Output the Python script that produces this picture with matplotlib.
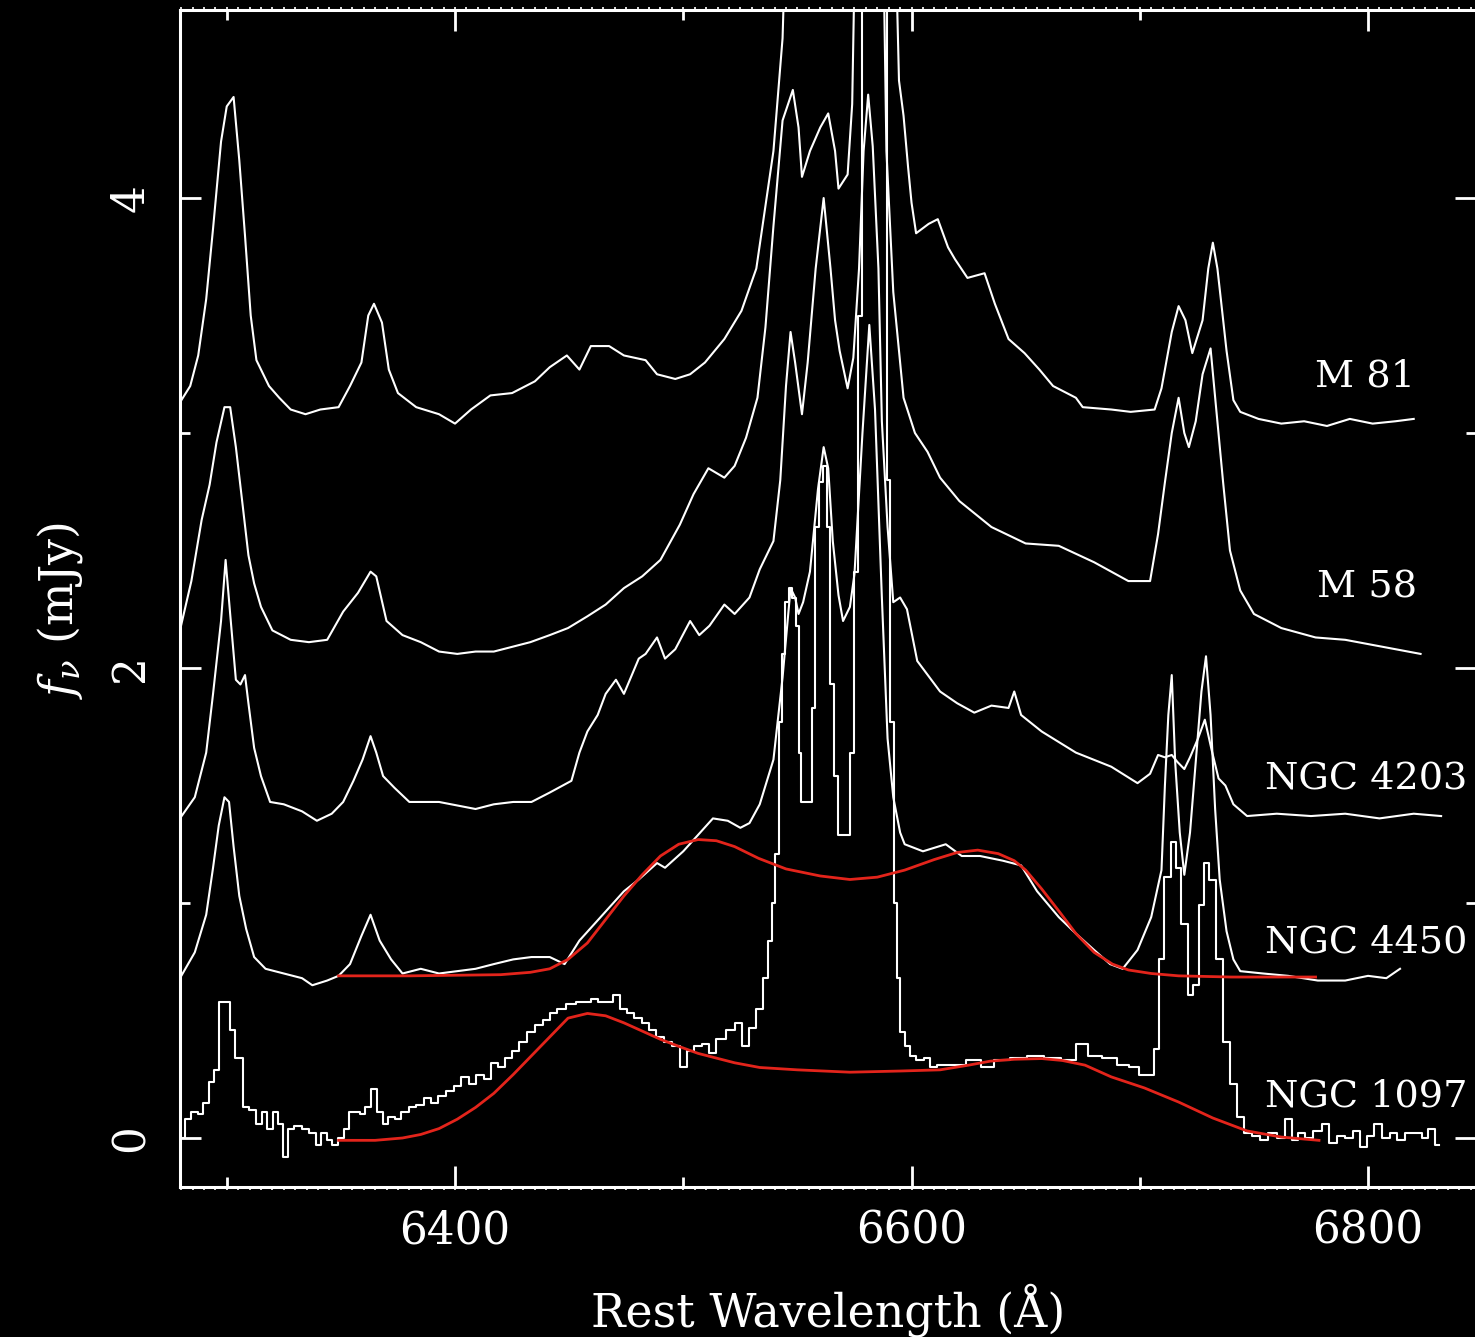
import numpy as np
import matplotlib
matplotlib.use("Agg")
import matplotlib.pyplot as plt
from matplotlib.ticker import MultipleLocator, NullLocator

plt.rcParams['font.family'] = ['DejaVu Serif']
plt.rcParams['mathtext.fontset'] = 'dejavuserif'

# spectra: (rest wavelength [A], f_nu [mJy] incl. offset)
# values > 4.8 run off the top of the frame
m81 = [(6279.5, 3.13), (6284, 3.20), (6287.5, 3.33), (6291, 3.57), (6294, 3.87), (6297.5, 4.24),
       (6300, 4.39), (6303, 4.43), (6305.5, 4.16), (6308, 3.84), (6310.5, 3.50), (6313, 3.31),
       (6318.5, 3.20), (6323, 3.15), (6328, 3.10), (6334.5, 3.08), (6341, 3.10), (6349, 3.11),
       (6354, 3.20), (6359, 3.30), (6362, 3.50), (6364.5, 3.55), (6368, 3.47), (6371, 3.27),
       (6375, 3.17), (6383, 3.11), (6393, 3.08), (6400, 3.04), (6407, 3.10), (6415.5, 3.16),
       (6425, 3.17), (6435, 3.22), (6441.5, 3.28), (6449, 3.33), (6454.5, 3.27), (6459.5, 3.37),
       (6467.5, 3.37), (6474, 3.33), (6483.5, 3.31), (6488.5, 3.25), (6496.5, 3.23), (6503, 3.25),
       (6509.5, 3.30), (6518, 3.40), (6525.5, 3.52), (6532, 3.70), (6539.5, 4.20), (6543.5, 4.68),
       (6546, 5.5), (6592, 5.5), (6594.5, 4.50), (6596.5, 4.35), (6598.5, 4.13), (6600, 3.98),
       (6602, 3.85), (6607.5, 3.89), (6611.5, 3.91), (6616, 3.79), (6619, 3.74), (6624.5, 3.66),
       (6632, 3.68), (6636.5, 3.55), (6642.5, 3.40), (6649.5, 3.34), (6656, 3.27), (6662, 3.20),
       (6672, 3.15), (6675, 3.11), (6687.5, 3.10), (6696, 3.09), (6706.5, 3.10), (6709.5, 3.19),
       (6714, 3.43), (6717, 3.54), (6720, 3.48), (6723, 3.34), (6727.5, 3.48), (6730, 3.70),
       (6732, 3.81), (6734, 3.70), (6735.5, 3.57), (6738, 3.35), (6741, 3.14), (6744, 3.09),
       (6752, 3.06), (6762, 3.04), (6772, 3.05), (6782, 3.03), (6792, 3.06), (6802, 3.04),
       (6812, 3.05), (6820, 3.06)]

m58 = [(6279.5, 2.16), (6284.5, 2.37), (6289, 2.63), (6292.5, 2.78), (6295.5, 2.96), (6299, 3.11),
       (6301.5, 3.11), (6304, 2.94), (6307, 2.69), (6309.5, 2.48), (6312, 2.36), (6315, 2.26),
       (6320, 2.16), (6328, 2.12), (6336, 2.11), (6344, 2.12), (6351, 2.24), (6357.5, 2.32),
       (6363, 2.41), (6365.5, 2.39), (6370, 2.20), (6377, 2.14), (6385, 2.11), (6393, 2.07),
       (6401, 2.06), (6409, 2.07), (6417, 2.07), (6425, 2.09), (6433, 2.11), (6441.5, 2.14),
       (6449.5, 2.17), (6458, 2.22), (6466, 2.27), (6474, 2.34), (6482, 2.39), (6490, 2.46),
       (6498.5, 2.61), (6504.5, 2.74), (6511, 2.85), (6518, 2.81), (6522.5, 2.86), (6527.5, 2.98),
       (6532.5, 3.15), (6536, 3.45), (6539.5, 3.88), (6543.5, 4.33), (6548, 4.46), (6550.5, 4.30),
       (6552, 4.09), (6555.5, 4.20), (6560, 4.30), (6563.5, 4.36), (6566.5, 4.20), (6568, 4.04),
       (6572, 4.10), (6574, 4.40), (6576, 5.5), (6587, 5.5), (6589, 4.20), (6592, 3.60),
       (6596.5, 3.15), (6601.5, 3.00), (6607, 2.92), (6612.5, 2.81), (6621, 2.71), (6635, 2.60),
       (6650, 2.53), (6664.5, 2.52), (6680, 2.45), (6695, 2.37), (6704.5, 2.37), (6708, 2.57),
       (6711, 2.79), (6714, 3.00), (6717, 3.15), (6719.5, 3.00), (6721.5, 2.94), (6724.5, 3.05),
       (6727.5, 3.25), (6731, 3.36), (6733.5, 3.10), (6736.5, 2.79), (6739.5, 2.50), (6744, 2.33),
       (6750, 2.23), (6762, 2.17), (6777, 2.13), (6790, 2.12), (6801, 2.10), (6812, 2.08),
       (6823, 2.06)]

ngc4203 = [(6279.5, 1.36), (6286, 1.45), (6291, 1.64), (6294, 1.89), (6297.5, 2.20), (6299.5, 2.46),
           (6301.5, 2.23), (6304, 1.95), (6306, 1.93), (6308, 1.97), (6309.5, 1.85), (6312, 1.66),
           (6315, 1.54), (6319, 1.43), (6325, 1.42), (6333, 1.39), (6339.5, 1.35), (6346, 1.38),
           (6351, 1.43), (6355.5, 1.52), (6359.5, 1.61), (6363, 1.71), (6365.5, 1.64), (6368.5, 1.54),
           (6373.5, 1.49), (6380, 1.43), (6393, 1.43), (6409, 1.40), (6417, 1.42), (6425.5, 1.43),
           (6433.5, 1.43), (6441.5, 1.47), (6451, 1.52), (6454.5, 1.64), (6458, 1.73), (6462.5, 1.80),
           (6466, 1.89), (6470.5, 1.95), (6474, 1.89), (6480.5, 2.04), (6483.5, 2.06), (6488.5, 2.13),
           (6492, 2.04), (6496.5, 2.08), (6503, 2.20), (6507, 2.14), (6511.5, 2.18), (6518, 2.27),
           (6522.5, 2.23), (6529, 2.30), (6533.5, 2.42), (6539.5, 2.54), (6542.5, 2.80), (6545, 3.20),
           (6547, 3.43), (6549, 3.30), (6552, 3.08), (6554.5, 3.30), (6558, 3.70), (6561.5, 4.00),
           (6564.5, 3.70), (6566.5, 3.48), (6568.5, 3.35), (6572, 3.19), (6574.5, 3.32), (6577, 3.70),
           (6579, 4.20), (6581, 4.44), (6583, 4.22), (6585.5, 3.70), (6587, 3.05), (6589.5, 2.60),
           (6592, 2.28), (6595, 2.30), (6598, 2.25), (6602.5, 2.03), (6612.5, 1.90), (6620, 1.85),
           (6627.5, 1.81), (6635, 1.84), (6642.5, 1.83), (6645, 1.90), (6648, 1.80), (6657, 1.73),
           (6672, 1.64), (6687.5, 1.58), (6699, 1.51), (6704.5, 1.55), (6708, 1.63), (6711, 1.62),
           (6714, 1.63), (6716.5, 1.60), (6719.5, 1.57), (6722, 1.62), (6725.5, 1.70), (6728.5, 1.78),
           (6731.5, 1.65), (6734.5, 1.53), (6737.5, 1.50), (6741, 1.42), (6747, 1.37), (6760, 1.38),
           (6775, 1.37), (6790, 1.38), (6805, 1.36), (6820, 1.38), (6832, 1.37)]

ngc4450 = [(6279.5, 0.68), (6286, 0.79), (6291, 0.95), (6294, 1.15), (6296.5, 1.33), (6299, 1.45),
           (6301, 1.43), (6303, 1.24), (6305.5, 1.03), (6308.5, 0.89), (6312, 0.77), (6317, 0.72),
           (6325, 0.70), (6333, 0.68), (6337.5, 0.65), (6344, 0.67), (6349, 0.69), (6354, 0.74),
           (6359, 0.86), (6363, 0.95), (6367, 0.84), (6372, 0.76), (6377, 0.70), (6385, 0.72),
           (6393, 0.70), (6401, 0.71), (6409, 0.72), (6417, 0.74), (6425.5, 0.76), (6433.5, 0.77),
           (6441.5, 0.77), (6448, 0.74), (6454.5, 0.84), (6461, 0.91), (6467.5, 0.98), (6474, 1.05),
           (6480.5, 1.10), (6488.5, 1.17), (6492, 1.15), (6500, 1.22), (6506.5, 1.29), (6513, 1.36),
           (6519.5, 1.35), (6525, 1.32), (6529, 1.34), (6533.5, 1.42), (6539.5, 1.61), (6543.5, 1.96),
           (6547, 2.34), (6549, 2.30), (6550.5, 2.23), (6552.5, 2.28), (6555.5, 2.41), (6559, 2.76),
           (6561.5, 2.94), (6563.5, 2.85), (6565.5, 2.54), (6568, 2.31), (6570, 2.20), (6573, 2.26),
           (6575, 2.40), (6578.5, 3.00), (6581.5, 3.46), (6584, 3.10), (6587, 2.30), (6589.5, 1.70),
           (6592, 1.45), (6595, 1.30), (6597, 1.25), (6605, 1.22), (6615, 1.25), (6622, 1.20),
           (6630, 1.20), (6640, 1.18), (6648, 1.16), (6655, 1.05), (6664.5, 0.94), (6672, 0.87),
           (6680, 0.80), (6687, 0.74), (6692.5, 0.72), (6699, 0.80), (6705, 0.94), (6709.5, 1.14),
           (6711, 1.50), (6712.5, 1.80), (6714, 1.97), (6715.5, 1.60), (6717.5, 1.30), (6719.5, 1.12),
           (6722, 1.30), (6724.5, 1.60), (6727, 1.90), (6729, 2.05), (6731, 1.80), (6733, 1.40),
           (6735, 1.10), (6738, 0.88), (6741, 0.76), (6744, 0.71), (6754, 0.70), (6765, 0.69),
           (6778, 0.67), (6790, 0.67), (6800, 0.69), (6808, 0.68), (6814, 0.72)]

ngc1097 = [(6281, 0.00), (6282.5, 0.08), (6286, 0.11), (6288.5, 0.10), (6291, 0.15), (6293.5, 0.24),
           (6295.5, 0.29), (6298, 0.58), (6300.5, 0.58), (6302, 0.46), (6305.5, 0.34), (6308.5, 0.13),
           (6311, 0.12), (6314.5, 0.06), (6316.5, 0.11), (6319, 0.04), (6321.5, 0.11), (6323.5, 0.06),
           (6325.5, -0.08), (6328, 0.04), (6331, 0.05), (6334.5, 0.04), (6337.5, 0.02), (6340.5, -0.03),
           (6342.5, 0.02), (6345, -0.01), (6347.5, -0.03), (6350, 0.00), (6352.5, 0.04), (6355, 0.11),
           (6357, 0.11), (6359.5, 0.10), (6362, 0.13), (6364.5, 0.21), (6367, 0.11), (6369.5, 0.06),
           (6372, 0.09), (6375, 0.08), (6378, 0.11), (6381.5, 0.13), (6384.5, 0.14), (6388, 0.17),
           (6391, 0.15), (6394.5, 0.18), (6398, 0.20), (6401, 0.22), (6404.5, 0.26), (6407.5, 0.23),
           (6411, 0.27), (6414, 0.25), (6417.5, 0.32), (6420.5, 0.30), (6423.5, 0.34), (6426.5, 0.37),
           (6430, 0.41), (6433.5, 0.45), (6437, 0.48), (6440, 0.50), (6443, 0.53), (6446.5, 0.55),
           (6451, 0.57), (6455, 0.58), (6458, 0.58), (6461, 0.59), (6464.5, 0.58), (6467.5, 0.58),
           (6470.5, 0.61), (6474, 0.55), (6477, 0.53), (6480, 0.51), (6483.5, 0.49), (6486.5, 0.46),
           (6490, 0.43), (6493.5, 0.41), (6497, 0.39), (6500, 0.30), (6503, 0.37), (6506.5, 0.39),
           (6509.5, 0.40), (6513, 0.36), (6516, 0.42), (6521, 0.46), (6524, 0.49), (6527.5, 0.39),
           (6530.5, 0.47), (6533.5, 0.55), (6536, 0.68), (6538, 0.84), (6539.5, 1.00), (6541, 1.21),
           (6542.5, 1.77), (6544, 2.06), (6545.5, 2.28), (6547, 2.34), (6548.5, 2.30), (6550, 2.18),
           (6551, 1.64), (6552.5, 1.43), (6554, 1.43), (6555.5, 1.43), (6557, 1.83), (6558.5, 2.60),
           (6560.5, 2.79), (6562, 2.86), (6563.5, 2.60), (6565, 1.93), (6567, 1.54), (6568.5, 1.29),
           (6570.5, 1.29), (6572.5, 1.29), (6574, 1.64), (6576, 2.41), (6577.5, 3.50), (6579.5, 5.5),
           (6588.5, 5.5), (6590, 2.80), (6591.5, 1.77), (6593, 1.00), (6594, 0.68), (6596, 0.45),
           (6598, 0.39), (6600.5, 0.35), (6603.5, 0.33), (6607, 0.34), (6609.5, 0.30), (6612.5, 0.31),
           (6620, 0.31), (6627.5, 0.33), (6633.5, 0.30), (6639, 0.33), (6647, 0.34), (6654.5, 0.35),
           (6662, 0.34), (6669, 0.33), (6675, 0.40), (6680, 0.35), (6687, 0.34), (6693, 0.31),
           (6697.5, 0.30), (6702, 0.27), (6705, 0.27), (6707.5, 0.38), (6709.5, 0.76), (6712, 1.11),
           (6715, 1.26), (6717, 1.15), (6719.5, 0.91), (6722.5, 0.61), (6724.5, 0.65), (6727, 0.99),
           (6729, 1.17), (6732, 1.10), (6735, 0.76), (6738, 0.41), (6741, 0.23), (6744, 0.09),
           (6747, 0.02), (6751, 0.01), (6754.5, -0.01), (6758, 0.02), (6762, 0.00), (6765, 0.08),
           (6768, -0.01), (6771, 0.02), (6774, 0.00), (6778, 0.03), (6781.5, 0.06), (6784.5, -0.02),
           (6788, 0.01), (6792, 0.00), (6795, 0.03), (6798, -0.04), (6801, 0.01), (6804, 0.06),
           (6808, 0.00), (6811, 0.02), (6814.5, -0.01), (6818, 0.02), (6822, 0.02), (6825, 0.00),
           (6827.5, 0.04), (6831, -0.03)]

# double-peaked disk fits (red)
fit4450 = [(6349, 0.69), (6380, 0.69), (6420, 0.695), (6433, 0.705), (6441.5, 0.72), (6449.5, 0.76),
           (6458, 0.83), (6466, 0.93), (6474, 1.03), (6482, 1.12), (6490, 1.20), (6498, 1.25),
           (6506.5, 1.27), (6514.5, 1.265), (6522.5, 1.24), (6533, 1.19), (6545, 1.145), (6560, 1.115),
           (6573, 1.10), (6585, 1.11), (6597, 1.14), (6610, 1.185), (6620, 1.215), (6629, 1.225),
           (6638, 1.21), (6645, 1.18), (6650, 1.14), (6657, 1.06), (6665, 0.96), (6672, 0.87),
           (6680, 0.79), (6688, 0.74), (6695, 0.715), (6705, 0.70), (6717, 0.69), (6740, 0.685),
           (6777, 0.685)]

fit1097 = [(6349, -0.01), (6365, -0.01), (6377, 0.0), (6385, 0.015), (6393, 0.04), (6401, 0.08),
           (6409, 0.13), (6417, 0.19), (6425.5, 0.27), (6433.5, 0.35), (6441.5, 0.43), (6449.5, 0.51),
           (6458, 0.53), (6466, 0.52), (6474, 0.49), (6482, 0.455), (6490, 0.42), (6498, 0.39),
           (6506.5, 0.36), (6514.5, 0.34), (6522.5, 0.32), (6533.5, 0.30), (6550, 0.29), (6573, 0.28),
           (6595, 0.285), (6612.5, 0.29), (6625, 0.31), (6634.5, 0.327), (6645, 0.335), (6657, 0.338),
           (6666, 0.33), (6676, 0.31), (6687.5, 0.26), (6702, 0.213), (6717, 0.153), (6732, 0.085),
           (6747, 0.03), (6762, 0.004), (6778.5, -0.01)]

names = ["M 81", "M 58", "NGC 4203", "NGC 4450", "NGC 1097"]
name_x = [6820.6, 6821.5, 6843.5, 6843.5, 6843.5]
name_y = [3.196, 2.298, 1.489, 0.79, 0.136]

fig = plt.figure(figsize=(14.75, 13.37), dpi=100, facecolor='black')
ax = fig.add_axes([0.1220, 0.1122, 0.8787, 0.8803])
ax.set_facecolor('black')

for spec in (m81, m58, ngc4203, ngc4450):
    w, f = np.array(spec).T
    ax.plot(w, f, color='white', lw=1.5, zorder=2)
w, f = np.array(ngc1097).T
ax.plot(w, f, color='white', lw=1.5, drawstyle='steps-mid', zorder=2)

for fit in (fit4450, fit1097):
    w, f = np.array(fit).T
    ax.plot(w, f, color='#e3241b', lw=2.0, zorder=3)

for name, x, y in zip(names, name_x, name_y):
    ax.text(x, y, name, color='white', fontsize=27.5, ha='right', va='baseline')

ax.set_xlim(6279.5, 6847.3)
ax.set_ylim(-0.2085, 4.80)

ax.xaxis.set_major_locator(MultipleLocator(200))
ax.xaxis.set_minor_locator(MultipleLocator(100))
ax.yaxis.set_major_locator(MultipleLocator(2))
ax.yaxis.set_minor_locator(MultipleLocator(1))
ax.tick_params(which='both', direction='in', colors='white', top=True, right=True, width=2)
ax.tick_params(which='major', length=15)
ax.tick_params(which='minor', length=7.5)
ax.tick_params(axis='x', labelsize=31.5, pad=16)
ax.tick_params(axis='y', labelsize=31.5, pad=20, labelrotation=90)
for lab in ax.get_yticklabels():
    lab.set_va('center')

for s in ax.spines.values():
    s.set_color('white')
    s.set_linewidth(2.2)

# fine ticks along the top and bottom of the frame
for loc in ('top', 'bottom'):
    sec = ax.secondary_xaxis(loc)
    sec.xaxis.set_major_locator(NullLocator())
    sec.xaxis.set_minor_locator(MultipleLocator(5))
    sec.tick_params(which='minor', direction='out', length=2.5, width=1.2, colors='white')
    for s in sec.spines.values():
        s.set_color('white')

ax.set_xlabel('Rest Wavelength (Å)', color='white', fontsize=33)
ax.xaxis.set_label_coords(0.5, -0.0816)
ax.set_ylabel(r'$f_\nu$ (mJy)', color='white', fontsize=33)
ax.yaxis.set_label_coords(-0.073, 0.49)

fig.savefig('out.png', dpi=100, facecolor='black')
